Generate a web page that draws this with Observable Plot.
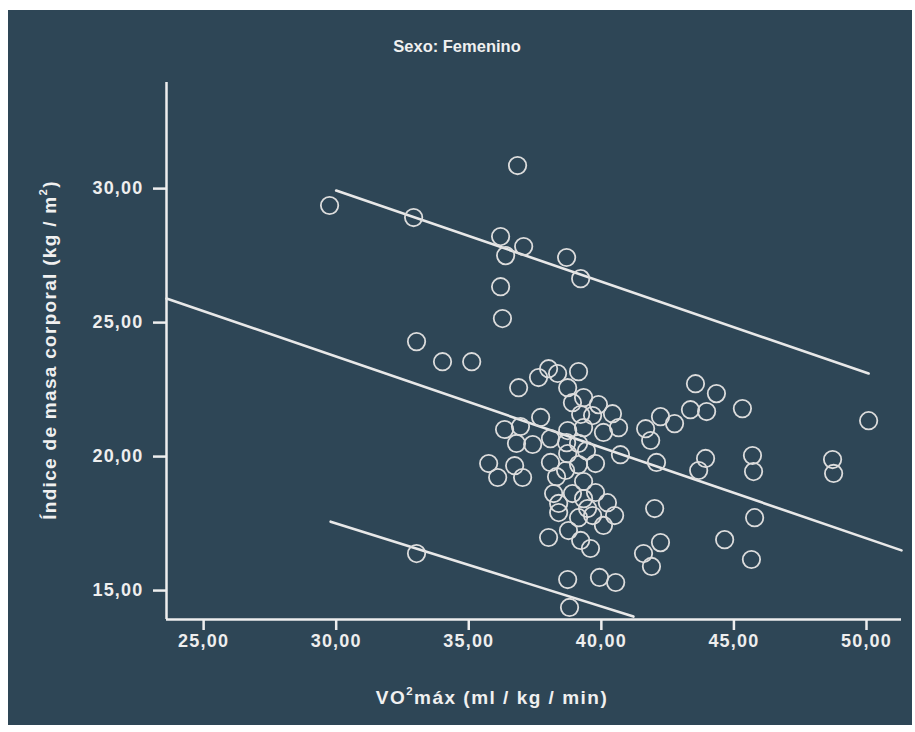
<!DOCTYPE html>
<html><head><meta charset="utf-8">
<script src="https://cdn.jsdelivr.net/npm/d3@7"></script>
<script src="https://cdn.jsdelivr.net/npm/@observablehq/plot@0.6"></script>
<style>
html,body{margin:0;padding:0;background:#fff;}
#wrap{position:relative;width:915px;height:732px;overflow:hidden;font-family:"Liberation Sans",Arial,sans-serif;}
#panel{position:absolute;left:8px;top:10px;width:904px;height:715px;background:#2e4656;}
#chart{position:absolute;left:0;top:0;}
.lbl{position:absolute;color:#f0f0f0;font-weight:bold;white-space:nowrap;line-height:1;}
#title{left:457px;top:46px;transform:translate(-50%,-50%);font-size:16.5px;}
#xlab{left:492px;top:697px;transform:translate(-50%,-50%);font-size:19px;letter-spacing:1.5px;}
#ylab{left:49px;top:350px;transform:translate(-50%,-50%) rotate(-90deg);font-size:19px;letter-spacing:1.3px;}
sup{font-size:0.6em;vertical-align:0.75em;line-height:0;}
</style></head>
<body>
<div id="wrap">
  <div id="panel"></div>
  <div id="chart"></div>
  <div class="lbl" id="title">Sexo: Femenino</div>
  <div class="lbl" id="xlab">VO<sup>2</sup>máx (ml / kg / min)</div>
  <div class="lbl" id="ylab">Índice de masa corporal (kg / m<sup>2</sup>)</div>
</div>
<script>
// Observations: VO2 max (ml/kg/min) and body mass index (kg/m²)
const vo2 = [29.75,32.92,36.84,36.20,36.39,37.07,38.69,39.22,36.20,36.27,33.03,34.01,35.11,
  36.88,37.63,38.01,38.35,39.14,38.73,38.91,39.33,39.89,40.42,39.67,39.22,40.65,40.08,39.33,38.73,
  37.71,36.95,36.35,36.80,37.41,38.08,38.69,39.14,39.44,38.73,38.08,39.14,39.78,35.75,36.09,36.73,
  37.03,38.31,38.65,39.33,38.20,38.39,38.91,39.33,39.78,40.23,40.50,40.08,39.67,39.48,39.14,38.76,
  39.22,39.59,38.39,38.01,38.73,39.93,40.54,38.80,33.03,40.72,41.67,41.86,42.08,42.23,42.76,43.55,
  44.34,43.36,43.97,45.32,50.08,43.93,43.67,45.70,45.74,48.72,48.76,42.01,45.78,42.23,44.65,41.59,
  41.89,45.66];
const imc = [29.37,28.92,30.86,28.21,27.50,27.84,27.43,26.64,26.34,25.15,24.29,23.54,23.54,
  22.57,22.95,23.28,23.10,23.17,22.57,22.01,22.20,21.94,21.60,21.53,21.57,21.08,20.90,21.08,20.97,
  21.46,21.12,21.01,20.49,20.45,20.67,20.52,20.49,20.22,20.11,19.78,19.70,19.74,19.74,19.22,19.66,
  19.22,19.25,19.48,19.07,18.62,18.25,18.62,18.43,18.66,18.28,17.80,17.43,17.80,18.06,17.72,17.24,
  16.87,16.57,17.91,16.98,15.41,15.49,15.30,14.37,16.38,20.07,21.04,20.60,19.78,21.49,21.23,22.72,
  22.35,21.75,21.68,21.79,21.34,19.93,19.48,20.04,19.44,19.89,19.37,18.06,17.72,16.79,16.90,16.38,
  15.90,16.16];

// Fit line and individual prediction interval (endpoints)
const fitX = [23.6, 51.32];
const fitY = [25.9, 16.5];
const upperX = [30.0, 50.08];
const upperY = [29.93, 23.10];
const lowerX = [29.79, 41.21];
const lowerY = [17.57, 14.03];

// Axes
const xDomain = [23.6, 51.32];
const yDomain = [13.92, 33.96];
const xTicks = [25, 30, 35, 40, 45, 50];
const yTicks = [15, 20, 25, 30];

const points = vo2.map((x, i) => ({x, y: imc[i]}));
const toRows = (xs, ys) => xs.map((x, i) => ({x, y: ys[i]}));
const fmt = d => d.toFixed(2).replace(".", ",");
const ink = "#eeeeee";

const chart = Plot.plot({
  width: 915, height: 732,
  marginLeft: 166, marginRight: 14, marginTop: 82, marginBottom: 113,
  style: {background: "transparent", color: ink, fontFamily: "Liberation Sans, Arial, sans-serif",
          fontSize: "18px", fontWeight: "bold", letterSpacing: "1.2px"},
  x: {domain: xDomain},
  y: {domain: yDomain},
  marks: [
    Plot.axisX(xTicks, {tickSize: 11, tickPadding: 4, tickFormat: fmt, label: null, strokeWidth: 2.5}),
    Plot.axisY(yTicks, {tickSize: 13, tickPadding: 10, tickFormat: fmt, label: null, strokeWidth: 2.5}),
    Plot.ruleX([xDomain[0]], {stroke: ink, strokeWidth: 2.5}),
    Plot.ruleY([yDomain[0]], {stroke: ink, strokeWidth: 2.5}),
    Plot.line(toRows(fitX, fitY), {x: "x", y: "y", stroke: "#e8e8e8", strokeWidth: 2.6}),
    Plot.line(toRows(upperX, upperY), {x: "x", y: "y", stroke: "#e8e8e8", strokeWidth: 2.6}),
    Plot.line(toRows(lowerX, lowerY), {x: "x", y: "y", stroke: "#e8e8e8", strokeWidth: 2.6}),
    Plot.dot(points, {x: "x", y: "y", r: 8.7, stroke: "#dcdcdc", strokeWidth: 1.8, fill: "none"})
  ]
});
document.getElementById("chart").append(chart);
</script>
</body></html>
